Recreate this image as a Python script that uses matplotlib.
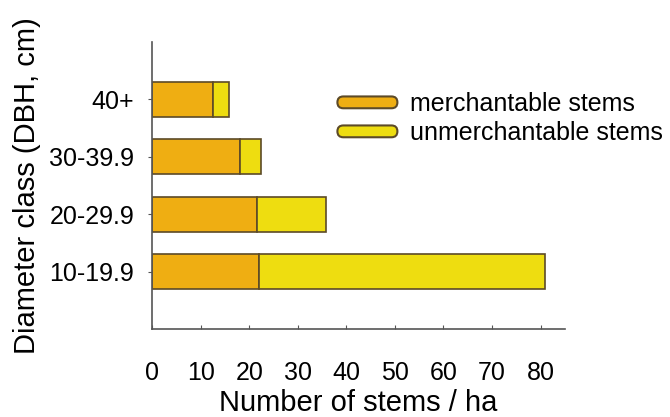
import matplotlib.pyplot as plt
from matplotlib.patches import Rectangle, FancyBboxPatch
from matplotlib.legend_handler import HandlerPatch

plt.rcParams['font.family'] = ['Liberation Sans', 'DejaVu Sans']

classes = ['10-19.9', '20-29.9', '30-39.9', '40+']
merchantable = [22.1, 21.7, 18.1, 12.6]
unmerchantable = [58.8, 14.2, 4.4, 3.2]
xticks = [0, 10, 20, 30, 40, 50, 60, 70, 80]

c_merch = '#EFAE12'
c_unmerch = '#EEDD10'
edge = '#5C4A28'


class RoundHandle(HandlerPatch):
    # legend key drawn as a thin rounded bar
    def create_artists(self, legend, orig_handle, xdescent, ydescent,
                       width, height, fontsize, trans):
        p = FancyBboxPatch((-xdescent, -ydescent), width, height,
                           boxstyle='round,pad=0,rounding_size=%f' % (height / 2),
                           facecolor=orig_handle.get_facecolor(),
                           edgecolor=orig_handle.get_edgecolor(),
                           linewidth=1.5, transform=trans)
        return [p]


fig = plt.figure(figsize=(6.7, 4.17), dpi=100)
ax = fig.add_axes([0.227, 0.211, 0.616, 0.688])

pos = [1, 2, 3, 4]
ax.barh(pos, merchantable, height=0.61, color=c_merch, edgecolor=edge, linewidth=1.2)
ax.barh(pos, unmerchantable, left=merchantable, height=0.61, color=c_unmerch,
        edgecolor=edge, linewidth=1.2)

ax.set_xlim(0, 85)
ax.set_ylim(0, 5)
ax.set_yticks(pos)
ax.set_yticklabels(classes)
ax.set_xticks(xticks)

for s in ['top', 'right']:
    ax.spines[s].set_visible(False)
for s in ['left', 'bottom']:
    ax.spines[s].set_color('#555555')
    ax.spines[s].set_linewidth(1.2)

ax.tick_params(axis='x', direction='in', length=3, color='#555555', labelsize=18, pad=23)
ax.tick_params(axis='y', direction='out', length=3, color='#555555', labelsize=18, pad=10)

ax.set_xlabel('Number of stems / ha', fontsize=21, labelpad=3)
ax.set_ylabel('Diameter class (DBH, cm)', fontsize=21, labelpad=6)

handles = [Rectangle((0, 0), 1, 1, facecolor=c_merch, edgecolor=edge),
           Rectangle((0, 0), 1, 1, facecolor=c_unmerch, edgecolor=edge)]
ax.legend(handles, ['merchantable stems', 'unmerchantable stems'],
          loc='upper left', bbox_to_anchor=(0.449, 0.825), frameon=False,
          fontsize=18, handlelength=2.4, handleheight=0.35,
          labelspacing=0.2, handletextpad=0.5, borderpad=0, borderaxespad=0,
          handler_map={Rectangle: RoundHandle()})

fig.savefig('out.png', dpi=100)
